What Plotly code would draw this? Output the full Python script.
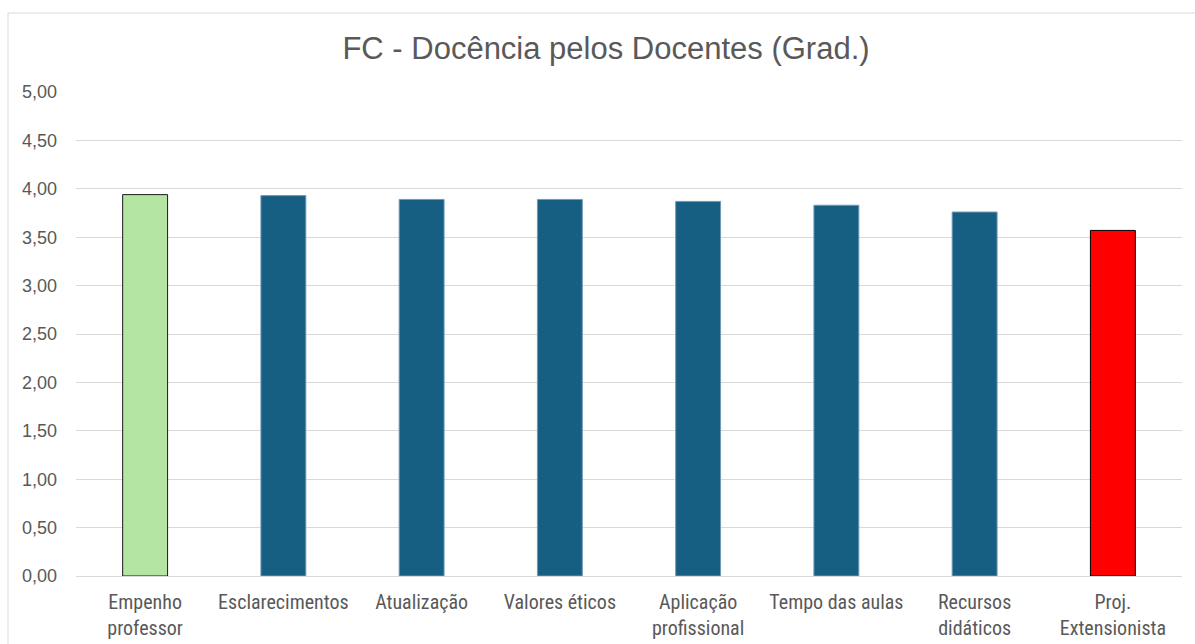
import plotly.graph_objects as go

categories = ["Empenho<br>professor", "Esclarecimentos", "Atualização", "Valores éticos",
              "Aplicação<br>profissional", "Tempo das aulas", "Recursos<br>didáticos",
              "Proj.<br>Extensionista"]
values = [3.94, 3.93, 3.89, 3.89, 3.87, 3.83, 3.76, 3.57]
bar_colors = ["#b5e5a2", "#175f82", "#175f82", "#175f82", "#175f82", "#175f82", "#175f82", "#ff0000"]
line_colors = ["#1a1a1a", "#6f9bb8", "#6f9bb8", "#6f9bb8", "#6f9bb8", "#6f9bb8", "#6f9bb8", "#000000"]
y_ticks = [0, 0.5, 1, 1.5, 2, 2.5, 3, 3.5, 4, 4.5, 5]

W, H = 1195, 644
L, R, T, B = 76, 13, 92, 68

fig = go.Figure(go.Bar(
    x=categories, y=values,
    marker=dict(color=bar_colors, line=dict(color=line_colors, width=1)),
    width=0.325,
    hoverinfo="x+y",
))

pw = W - L - R
ph = H - T - B
fig.add_shape(type="rect", xref="paper", yref="paper",
              x0=(8 - L) / pw, x1=(W + 5 - L) / pw,
              y0=-(B + 5) / ph, y1=(H - 13 - B) / ph,
              line=dict(color="#d9d9d9", width=1), fillcolor="rgba(0,0,0,0)", layer="below")

fig.update_layout(
    width=W, height=H,
    margin=dict(l=L, r=R, t=T, b=B, autoexpand=False),
    paper_bgcolor="white", plot_bgcolor="white",
    separators=",.",
    title=dict(text="FC - Docência pelos Docentes (Grad.)",
               x=606 / W, xanchor="center", xref="container",
               y=1 - 48 / H, yanchor="middle",
               font=dict(family="Liberation Sans, Arial", size=31, color="#595959")),
    showlegend=False,
    xaxis=dict(showgrid=False, showline=True, linecolor="#d9d9d9", linewidth=1,
               automargin=False,
               tickfont=dict(family="Liberation Sans Narrow, Roboto Condensed, Roboto", size=20, color="#595959"),
               ticks="", ticklabelstandoff=8),
    yaxis=dict(range=[0, 5], tickvals=y_ticks, tickformat=".2f", automargin=False,
               showgrid=True, gridcolor="#d9d9d9", gridwidth=1, zeroline=False,
               tickfont=dict(family="Liberation Sans, Arial", size=18, color="#595959"),
               ticks="", ticklabelstandoff=18),
)

fig.write_html("out.html", config={"displayModeBar": False},
               post_script="document.body.style.margin='0';")
